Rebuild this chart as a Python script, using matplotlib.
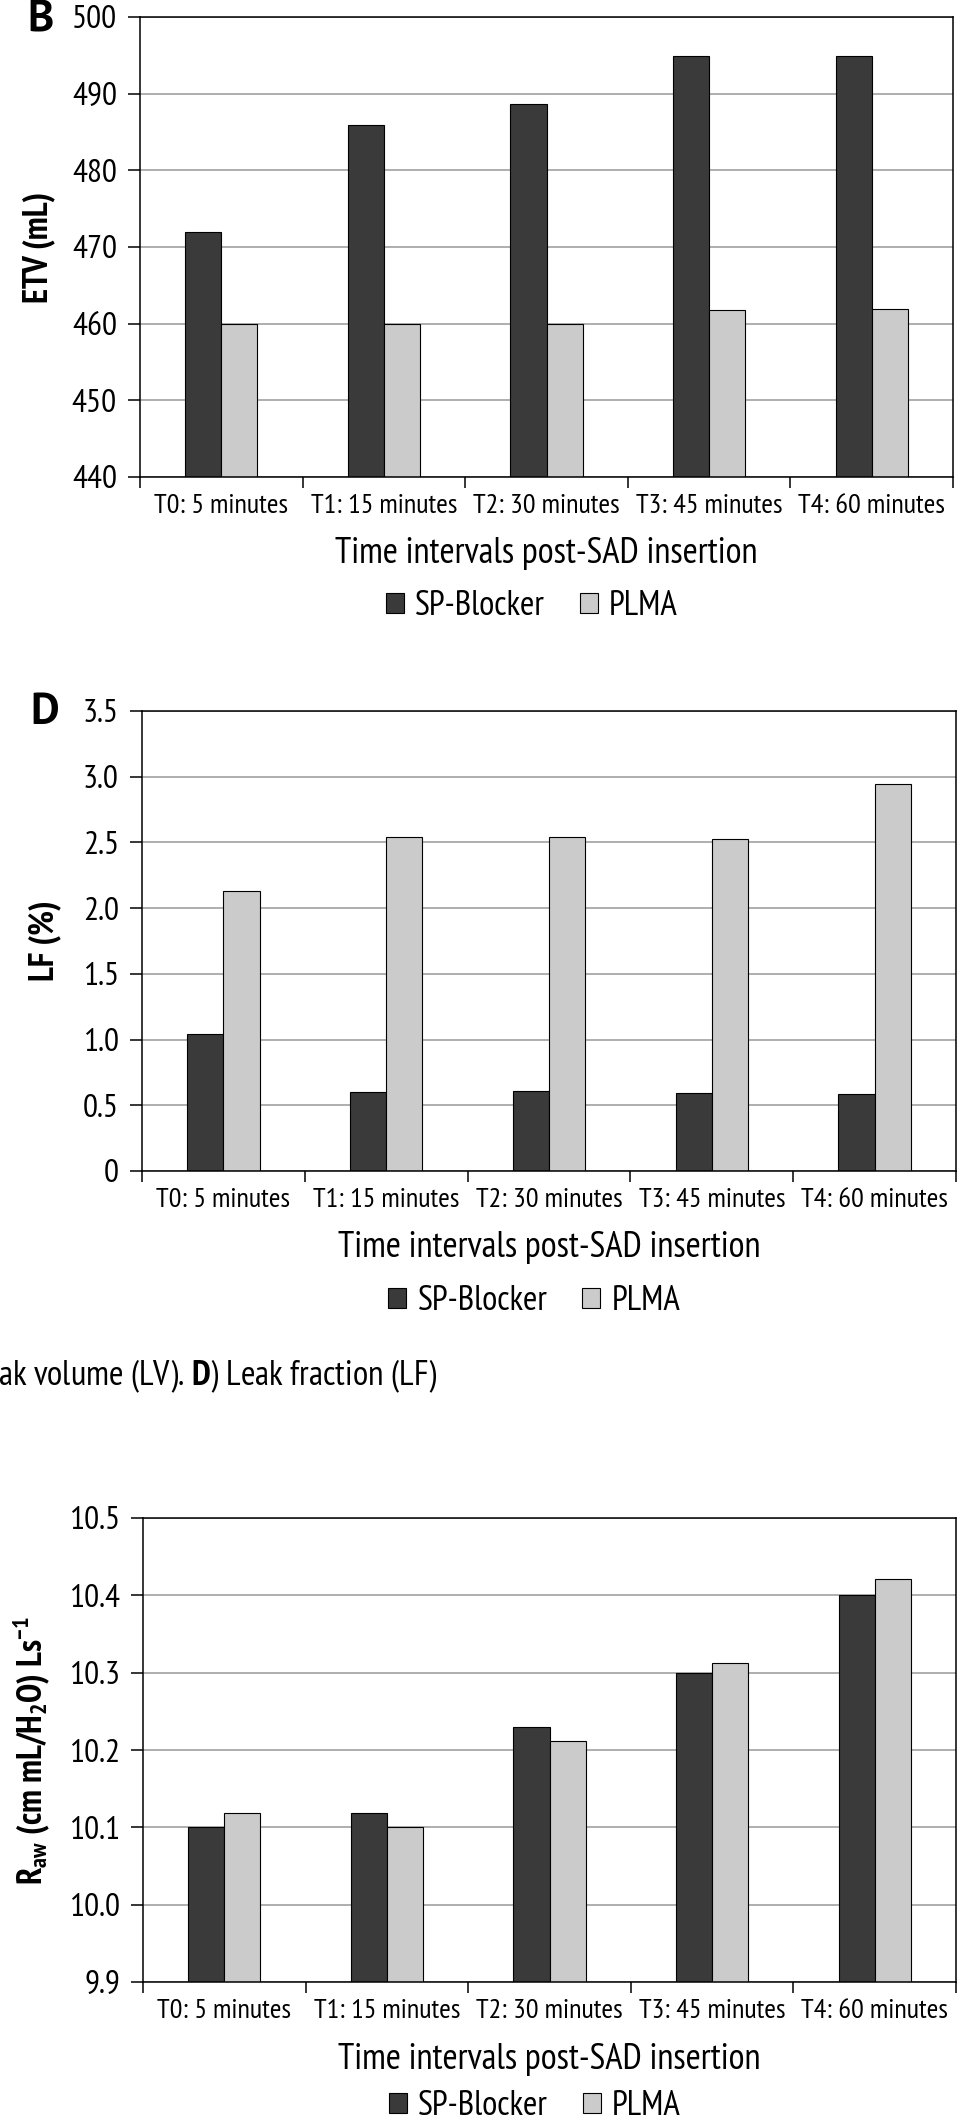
#!/usr/bin/env python3

# ==========================================
# ETV / LF / Raw bar charts, SP-Blocker vs PLMA
# ==========================================

import numpy as np
import matplotlib

matplotlib.use("Agg")
import matplotlib.pyplot as plt
from matplotlib.ticker import FixedLocator


# Plot parameters
params = {
    "font.family": ["PT Sans Narrow", "Roboto Condensed", "DejaVu Sans"],
    "mathtext.fontset": "custom",
    "mathtext.rm": "PT Sans Narrow",
    "mathtext.it": "PT Sans Narrow",
    "mathtext.bf": "PT Sans Narrow:bold",
    "axes.linewidth": 1.1,
    "xtick.labelsize": 20.3,
    "ytick.labelsize": 24,
}
plt.rcParams.update(params)

# data
categories = ["T0: 5 minutes", "T1: 15 minutes", "T2: 30 minutes",
              "T3: 45 minutes", "T4: 60 minutes"]
series_names = ["SP-Blocker", "PLMA"]

etv_sp = [472.0, 485.9, 488.7, 494.9, 494.9]
etv_plma = [460.0, 460.0, 460.0, 461.8, 461.9]
etv_ticks = [440, 450, 460, 470, 480, 490, 500]
etv_ticklabels = ["440", "450", "460", "470", "480", "490", "500"]

lf_sp = [1.045, 0.60, 0.606, 0.593, 0.589]
lf_plma = [2.128, 2.54, 2.543, 2.523, 2.945]
lf_ticks = [0, 0.5, 1.0, 1.5, 2.0, 2.5, 3.0, 3.5]
lf_ticklabels = ["0", "0.5", "1.0", "1.5", "2.0", "2.5", "3.0", "3.5"]

raw_sp = [10.10, 10.118, 10.23, 10.30, 10.40]
raw_plma = [10.118, 10.10, 10.211, 10.312, 10.421]
raw_ticks = [9.9, 10.0, 10.1, 10.2, 10.3, 10.4, 10.5]
raw_ticklabels = ["9.9", "10.0", "10.1", "10.2", "10.3", "10.4", "10.5"]

xlabel = "Time intervals post-SAD insertion"
caption = r"ak volume (LV). $\mathbf{D}$) Leak fraction (LF)"

dark = "#3a3a3a"
light = "#cbcbcb"
W, H = 959, 2119


def px_axes(left, top, right, bottom):
    """axes rectangle from pixel edges (origin top-left)"""
    return [left / W, (H - bottom) / H, (right - left) / W, (bottom - top) / H]


def bar_panel(fig, rect, sp, plma, ticks, ticklabels, ylabel, ylab_x, xlab_y, leg_y):
    ax = fig.add_axes(rect)
    x = np.arange(len(categories))
    width = 0.222

    ax.bar(x - width / 2, sp, width, color=dark, edgecolor="black",
           linewidth=0.8, zorder=3, label=series_names[0])
    ax.bar(x + width / 2, plma, width, color=light, edgecolor="black",
           linewidth=0.8, zorder=3, label=series_names[1])

    ax.set_xlim(-0.5, len(categories) - 0.5)
    ax.set_ylim(ticks[0], ticks[-1])

    ax.yaxis.set_major_locator(FixedLocator(ticks))
    ax.set_yticklabels(ticklabels)
    ax.set_xticks(x)
    ax.set_xticklabels(categories)
    ax.xaxis.set_minor_locator(FixedLocator(np.arange(-0.5, len(categories), 1.0)))

    ax.tick_params(axis="y", which="major", length=8.6, width=1.1, pad=8)
    ax.tick_params(axis="x", which="major", length=0, pad=12)
    ax.tick_params(axis="x", which="minor", length=8, width=1.1)

    ax.yaxis.grid(True, color="#999999", linewidth=1.1, zorder=0)
    ax.set_axisbelow(True)
    for s in ax.spines.values():
        s.set_color("black")
        s.set_zorder(4)

    ax.set_ylabel(ylabel, fontsize=25, fontweight="bold")
    ax.yaxis.set_label_coords(ylab_x, 0.5)

    ax.set_xlabel(xlabel, fontsize=26.3, va="center")
    ax.xaxis.set_label_coords(0.5, xlab_y)

    ax.legend(loc="center", bbox_to_anchor=(0.482, leg_y), ncol=2, frameon=False,
              fontsize=25, handlelength=0.52, handleheight=0.5,
              handletextpad=0.33, columnspacing=1.0)
    return ax


def main():
    fig = plt.figure(figsize=(W / 100, H / 100), dpi=100)
    letter_font = ["PT Sans", "Liberation Sans", "DejaVu Sans"]

    # B) end tidal volume
    bar_panel(fig, px_axes(140, 17, 953, 477), etv_sp, etv_plma, etv_ticks,
              etv_ticklabels, "ETV (mL)", -0.105, -77 / 460, -129 / 460)
    fig.text(41 / W, 1 - 20 / H, "B", fontsize=32, fontweight="bold",
             family=letter_font, ha="center", va="center")

    # D) leak fraction
    bar_panel(fig, px_axes(142, 711, 956, 1171), lf_sp, lf_plma, lf_ticks,
              lf_ticklabels, "LF (%)", -0.0995, -76 / 460, -130 / 460)
    fig.text(45 / W, 1 - 713 / H, "D", fontsize=32, fontweight="bold",
             family=letter_font, ha="center", va="center")

    # cut caption between the panels
    fig.text(-2 / W, 1 - 1385 / H, caption, fontsize=25.3, ha="left", va="baseline")

    # airway resistance
    raw_label = r"$\mathbf{R_{aw}}$ (cm mL/H$\mathbf{_2}$O) Ls$\mathbf{^{-1}}$"
    bar_panel(fig, px_axes(143, 1518, 956, 1982), raw_sp, raw_plma, raw_ticks,
              raw_ticklabels, raw_label, -0.112, -78 / 464, -124 / 464)

    fig.savefig("out.png", dpi=100)


if __name__ == "__main__":
    main()
